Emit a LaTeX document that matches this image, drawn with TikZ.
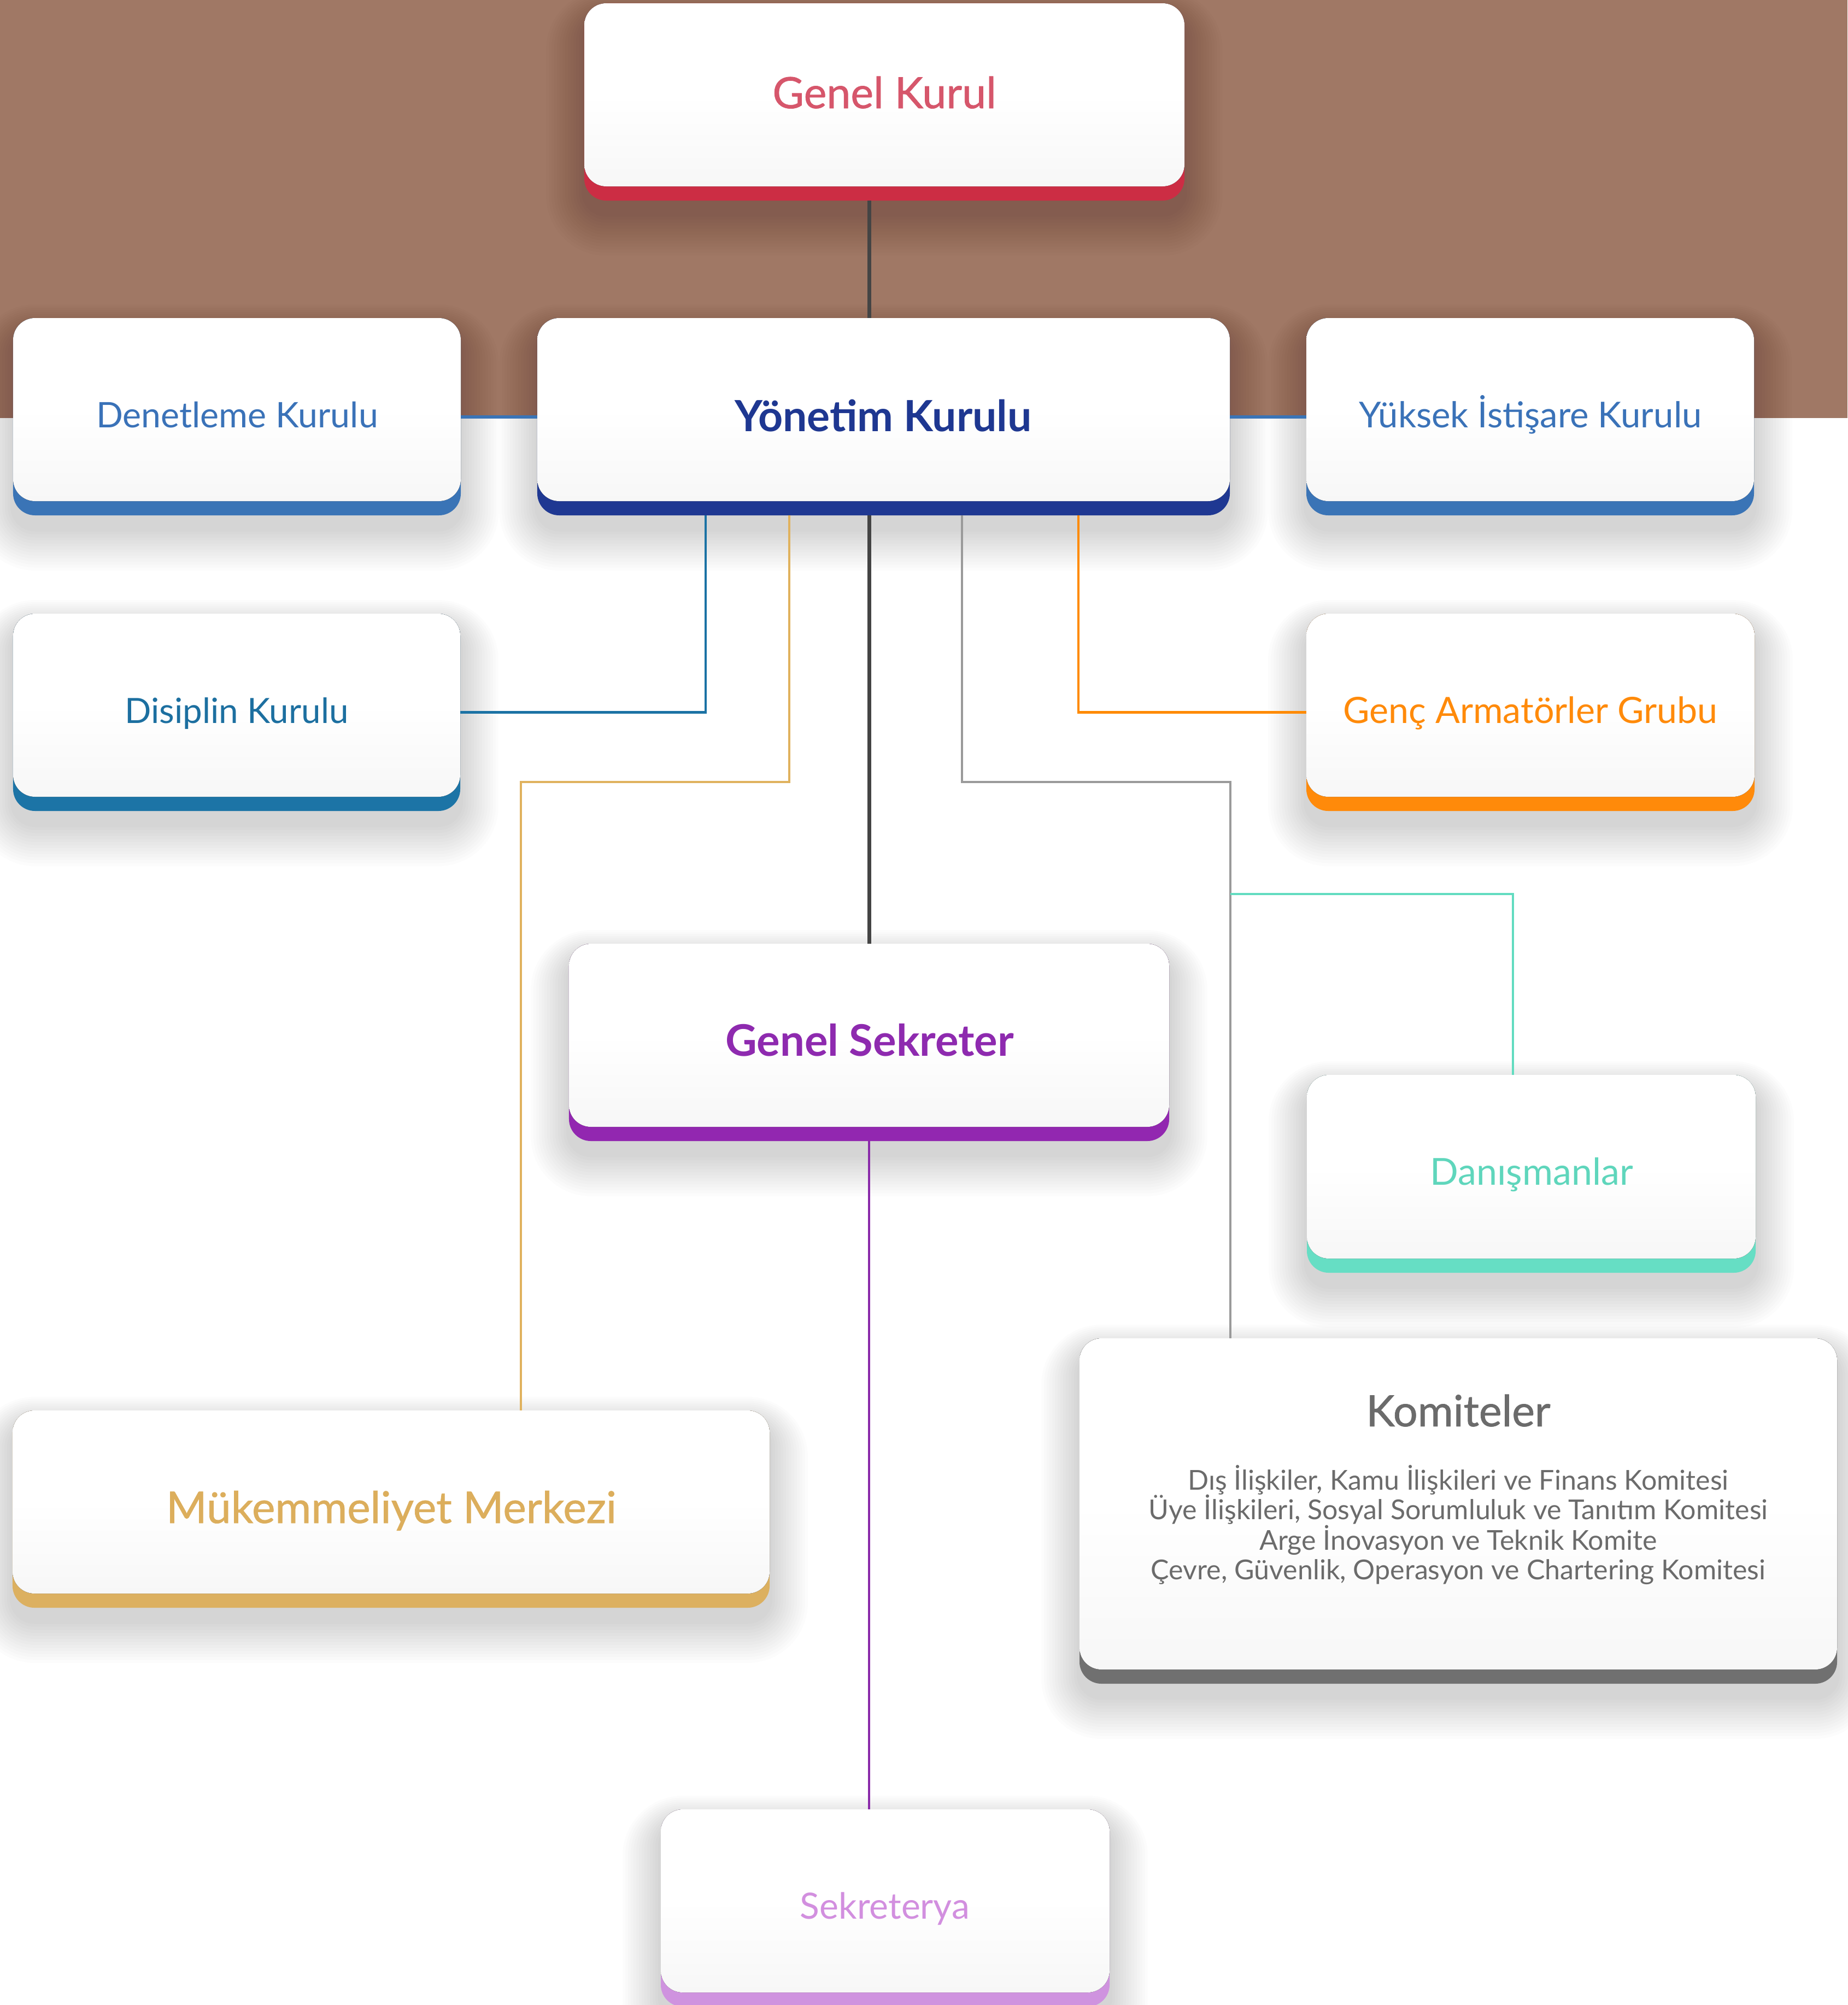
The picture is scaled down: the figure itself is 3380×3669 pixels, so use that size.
\documentclass[tikz,border=0pt]{standalone}
\usepackage{fontspec}
\setmainfont{Lato}
\newfontfamily\medfont{Lato}[FakeBold=0.9]
\usetikzlibrary{calc}
\definecolor{brownbg}{HTML}{A07865}
\definecolor{gkband}{HTML}{CC2D44}\definecolor{gktext}{HTML}{D6566B}
\definecolor{dkband}{HTML}{3A74B6}\definecolor{dktext}{HTML}{3A72B8}
\definecolor{ykband}{HTML}{1F3892}\definecolor{yktext}{HTML}{1E3791}
\definecolor{disband}{HTML}{1C74A6}\definecolor{distext}{HTML}{1C6FA0}
\definecolor{gagband}{HTML}{FF8A0A}\definecolor{gagtext}{HTML}{FF8A0A}
\definecolor{gsband}{HTML}{9227B0}\definecolor{gstext}{HTML}{8E2AAF}
\definecolor{danband}{HTML}{66DEC4}\definecolor{dantext}{HTML}{5FD6BC}
\definecolor{komband}{HTML}{707070}\definecolor{komtext}{HTML}{6B6B6B}
\definecolor{mmband}{HTML}{DCB060}\definecolor{mmtext}{HTML}{DCAE5C}
\definecolor{sekband}{HTML}{CF93DF}\definecolor{sektext}{HTML}{D28FDF}
\definecolor{darkline}{HTML}{444444}
\definecolor{disline}{HTML}{1B72A4}
\definecolor{goldline}{HTML}{E0B25E}
\definecolor{grayline}{HTML}{9A9A9A}
\definecolor{orangeline}{HTML}{FF8A00}
\definecolor{tealline}{HTML}{62DCC0}
\definecolor{purpleline}{HTML}{8A2BAA}
\definecolor{facebottom}{HTML}{F7F7F7}

\newlength\fitlen
\newcommand\fitsz[3]{%
  \settowidth\fitlen{\fontsize{10pt}{12pt}\selectfont #3}%
  \pgfmathsetmacro\fitsize{2.84528*#1/\fitlen}%
  \pgfmathsetmacro\fitskip{0.284528*#2}%
  \fontsize{\fitsize pt}{\fitskip pt}\selectfont}

\tikzset{
  boxbase/.style={rectangle, rounded corners=0.4cm, inner sep=0pt, outer sep=0pt, draw=none},
  boxface/.style={rounded corners=0.4cm, top color=white, bottom color=facebottom, middle color=white},
  lbl/.style={anchor=base, inner sep=0pt, outer sep=0pt},
  conn/.style={line width=1.3pt},
  mainconn/.style={line width=2pt, darkline},
}

\newcommand\orgshadow[4]{%
  \foreach \i in {1,...,14}{%
    \pgfmathsetmacro\rr{0.4+\i*0.05}%
    \fill[black, opacity=0.010, rounded corners=\rr cm]
      ({#1-\i*5},{#2-\i*3.5+24}) rectangle ({#3+\i*5},{#4+\i*5.5+24});
  }}
\newcommand\orgbox[6]{%
  \pgfmathsetmacro\bw{(#4-#2)*0.01}%
  \pgfmathsetmacro\bh{(#5-#3)*0.01}%
  \node[boxbase, fill=#6, minimum width=\bw cm, minimum height=\bh cm] (#1)
    at ({(#2+#4)/2},{(#3+#5)/2}) {};
  \fill[boxface] (#2,#3) rectangle (#4,{#5-26});
}

\begin{document}
\begin{tikzpicture}[x=0.01cm, y=-0.01cm]
\useasboundingbox (0,0) rectangle (3380,3669);
\fill[white] (0,0) rectangle (3380,3669);
\fill[brownbg] (0,0) rectangle (3380,765);

% shadows
\orgshadow{1069}{6}{2167}{367}
\orgshadow{24}{582}{843}{943}
\orgshadow{983}{582}{2250}{943}
\orgshadow{2390}{582}{3209}{943}
\orgshadow{24}{1123}{842}{1484}
\orgshadow{2390}{1123}{3210}{1484}
\orgshadow{1041}{1727}{2139}{2088}
\orgshadow{2391}{1967}{3212}{2329}
\orgshadow{1975}{2449}{3361}{3081}
\orgshadow{23}{2581}{1408}{2942}
\orgshadow{1209}{3311}{2030}{3672}

% boxes
\orgbox{gk}{1069}{6}{2167}{367}{gkband}
\orgbox{dk}{24}{582}{843}{943}{dkband}
\orgbox{yk}{983}{582}{2250}{943}{ykband}
\orgbox{yik}{2390}{582}{3209}{943}{dkband}
\orgbox{dis}{24}{1123}{842}{1484}{disband}
\orgbox{gag}{2390}{1123}{3210}{1484}{gagband}
\orgbox{gs}{1041}{1727}{2139}{2088}{gsband}
\orgbox{dan}{2391}{1967}{3212}{2329}{danband}
\orgbox{kom}{1975}{2449}{3361}{3081}{komband}
\orgbox{mm}{23}{2581}{1408}{2942}{mmband}
\orgbox{sek}{1209}{3311}{2030}{3672}{sekband}

% labels
\node[lbl, text=gktext, font={\medfont\fitsz{409}{60}{Genel Kurul}}] (gkt) at (1618,198) {Genel Kurul};
\node[lbl, text=dktext, font={\fitsz{515}{60}{Denetleme Kurulu}}] (dkt) at (434,782) {Denetleme Kurulu};
\node[lbl, text=yktext, font={\bfseries\fitsz{543}{60}{Yönetim Kurulu}}] (ykt) at (1616,789) {Yönetim Kurulu};
\node[lbl, text=dktext, font={\fitsz{627}{60}{Yüksek İstişare Kurulu}}] (yikt) at (2800,782) {Yüksek İstişare Kurulu};
\node[lbl, text=distext, font={\fitsz{409}{60}{Disiplin Kurulu}}] (dist) at (433,1323) {Disiplin Kurulu};
\node[lbl, text=gagtext, font={\fitsz{685}{60}{Genç Armatörler Grubu}}] (gagt) at (2800,1323) {Genç Armatörler Grubu};
\node[lbl, text=gstext, font={\bfseries\fitsz{527}{60}{Genel Sekreter}}] (gst) at (1591,1932) {Genel Sekreter};
\node[lbl, text=dantext, font={\fitsz{371}{60}{Danışmanlar}}] (dant) at (2802,2168) {Danışmanlar};
\node[lbl, text=mmtext, font={\medfont\fitsz{823}{60}{Mükemmeliyet Merkezi}}] (mmt) at (716,2787) {Mükemmeliyet Merkezi};
\node[lbl, text=sektext, font={\fitsz{310}{60}{Sekreterya}}] (sekt) at (1619,3511) {Sekreterya};
\node[lbl, text=komtext, font={\medfont\fitsz{337}{60}{Komiteler}}] (komt) at (2668,2610) {Komiteler};
\tikzset{komline/.style={lbl, text=komtext, font={\fitsz{1124}{55}{Çevre, Güvenlik, Operasyon ve Chartering Komitesi}}}}
\node[komline] (kom1) at (2668,2726) {Dış İlişkiler, Kamu İlişkileri ve Finans Komitesi};
\node[komline] (kom2) at (2668,2780) {Üye İlişkileri, Sosyal Sorumluluk ve Tanıtım Komitesi};
\node[komline] (kom3) at (2668,2836) {Arge İnovasyon ve Teknik Komite};
\node[komline] (kom4) at (2668,2890) {Çevre, Güvenlik, Operasyon ve Chartering Komitesi};

% connector columns / rows
\coordinate (xm) at (1590,0);
\coordinate (xa) at (1291,0);
\coordinate (xb) at (1444,0);
\coordinate (xc) at (1760,0);
\coordinate (xd) at (1973,0);
\coordinate (xe) at (953,0);
\coordinate (xf) at (2251,0);
\coordinate (xg) at (2768,0);
\coordinate (yh) at (0,1431);
\coordinate (yt) at (0,1636);

% connectors
\draw[mainconn] (gk.south -| xm) -- (yk.north -| xm);
\draw[line width=1.7pt, dkband] (dk.east) -- (yk.west);
\draw[line width=1.7pt, dkband] (yk.east) -- (yik.west);
\draw[mainconn] (yk.south -| xm) -- (gs.north -| xm);
\draw[conn, disline] (yk.south -| xa) |- (dis.east);
\draw[conn, orangeline] (yk.south -| xd) |- (gag.west);
\draw[conn, goldline] (yk.south -| xb) |- (xe |- yh) -- (mm.north -| xe);
\draw[conn, grayline] (yk.south -| xc) |- (xf |- yh) -- (kom.north -| xf);
\draw[conn, tealline] (xf |- yt) -| (dan.north -| xg);
\draw[conn, purpleline] (gs.south -| xm) -- (sek.north -| xm);
\end{tikzpicture}
\end{document}
